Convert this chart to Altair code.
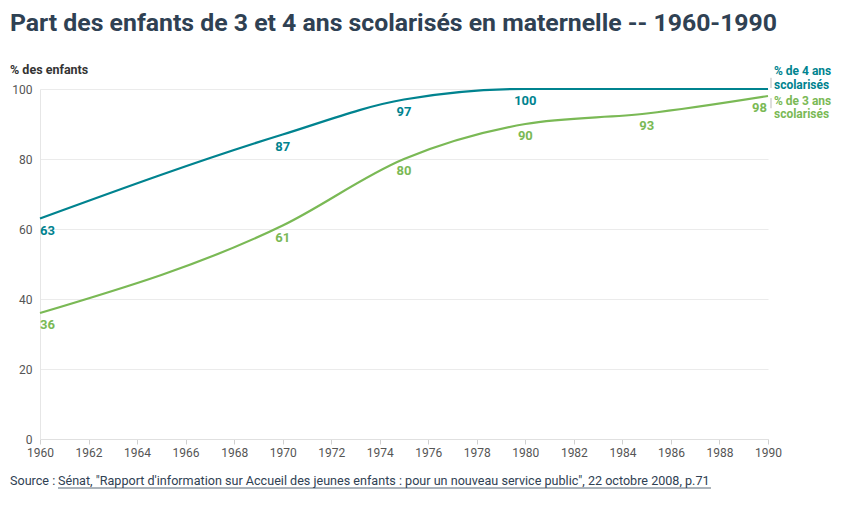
import altair as alt
import pandas as pd

years4 = [1960, 1970, 1975, 1980, 1990]
vals4 = [63, 87, 97, 100, 100]
labels4 = ["63", "87", "97", "100", ""]
years3 = [1960, 1970, 1975, 1980, 1985, 1990]
vals3 = [36, 61, 80, 90, 93, 98]
labels3 = ["36", "61", "80", "90", "93", "98"]

title_text = "Part des enfants de 3 et 4 ans scolarisés en maternelle -- 1960-1990"
ytitle_text = "% des enfants"
source_prefix = "Source : "
source_link = "Sénat, \"Rapport d'information sur Accueil des jeunes enfants : pour un nouveau service public\", 22 octobre 2008, p.71"
end4 = "% de 4 ans\nscolarisés"
end3 = "% de 3 ans\nscolarisés"

TEAL = "#00838f"
GREEN = "#7ab955"
FONT = "Roboto"

df4 = pd.DataFrame({"annee": years4, "val": vals4, "lab": labels4})
df3 = pd.DataFrame({"annee": years3, "val": vals3, "lab": labels3})

x = alt.X("annee:Q", scale=alt.Scale(domain=[1960, 1990], nice=False),
          axis=alt.Axis(values=list(range(1960, 1991, 2)), format="d", title=None,
                        grid=False, domainColor="#e0e0e0", tickColor="#d0d0d0", tickSize=5,
                        labelFlush=False, labelOverlap=False,
                        labelColor="#555555", labelFontSize=12, labelFont=FONT, labelPadding=3))
y = alt.Y("val:Q", scale=alt.Scale(domain=[0, 100], nice=False),
          axis=alt.Axis(values=[0, 20, 40, 60, 80, 100], title=None, grid=True,
                        gridColor="#ebebeb", domainColor="#e6e6e6", ticks=False,
                        labelColor="#555555", labelFontSize=12, labelFont=FONT, labelPadding=8))

base4 = alt.Chart(df4)
base3 = alt.Chart(df3)

line4 = base4.mark_line(color=TEAL, strokeWidth=2.2, interpolate="monotone").encode(x=x, y=y)
line3 = base3.mark_line(color=GREEN, strokeWidth=2.2, interpolate="monotone").encode(x=x, y=y)

def point_labels(base, color):
    common = dict(color=color, fontSize=13, fontWeight="bold", font=FONT, baseline="top", dy=6)
    return alt.layer(
        base.transform_filter("datum.annee == 1960").mark_text(align="left", **common).encode(
            x="annee:Q", y="val:Q", text="lab:N"),
        base.transform_filter("datum.annee > 1960 && datum.annee < 1990").mark_text(align="center", **common).encode(
            x="annee:Q", y="val:Q", text="lab:N"),
        base.transform_filter("datum.annee == 1990").mark_text(align="right", dx=-1, **common).encode(
            x="annee:Q", y="val:Q", text="lab:N"),
    )

lab4 = point_labels(base4, TEAL)
lab3 = point_labels(base3, GREEN)

last4 = base4.transform_filter("datum.annee == 1990")
last3 = base3.transform_filter("datum.annee == 1990")
endc = dict(fontSize=12, fontWeight="bold", font=FONT, align="left", baseline="middle",
            dx=6, lineBreak="\n", lineHeight=13.5)
e4 = last4.mark_text(color=TEAL, dy=-18, text=end4, **endc).encode(x="annee:Q", y="val:Q")
e3 = last3.mark_text(color=GREEN, dy=4.5, text=end3, **endc).encode(x="annee:Q", y="val:Q")

br4 = last4.transform_calculate(a="datum.val + 3.2", b="datum.val + 0.3").mark_rule(
    color="#bbbbbb", strokeWidth=1, xOffset=3).encode(x="annee:Q", y="a:Q", y2="b:Q")
br3 = last3.transform_calculate(a="datum.val - 0.6", b="datum.val - 3.5").mark_rule(
    color="#bbbbbb", strokeWidth=1, xOffset=3).encode(x="annee:Q", y="a:Q", y2="b:Q")

txt = alt.Chart(pd.DataFrame({"t": [title_text]}))
title = txt.mark_text(align="left", baseline="middle", fontSize=24.8, fontWeight="bold",
                      font=FONT, color="#2f4153", text=title_text).encode(
    x=alt.value(-30), y=alt.value(-65))
ytitle = txt.mark_text(align="left", baseline="middle", fontSize=12.5, fontWeight="bold",
                       font=FONT, color="#333333", text=ytitle_text).encode(
    x=alt.value(-30), y=alt.value(-19))
src1 = txt.mark_text(align="left", baseline="middle", fontSize=12.6, font=FONT,
                     color="#2f4153", text=source_prefix).encode(
    x=alt.value(-30), y=alt.value(392))
src2 = txt.mark_text(align="left", baseline="middle", fontSize=12.6, font=FONT,
                     color="#2f4153", text=source_link).encode(
    x=alt.value(18), y=alt.value(392))
underline = txt.mark_rule(color="#2f4153", strokeWidth=0.8).encode(
    x=alt.value(18), x2=alt.value(671), y=alt.value(399))

chart = alt.layer(line4, line3, lab4, lab3, br4, br3, e4, e3,
                  title, ytitle, src1, src2, underline).properties(
    width=728, height=350,
    autosize=alt.AutoSizeParams(type="none"),
    padding={"left": 32, "top": 81, "right": 74, "bottom": 71},
).configure_view(stroke=None)

chart.save("out.html", embed_options={"renderer": "svg", "actions": False})
